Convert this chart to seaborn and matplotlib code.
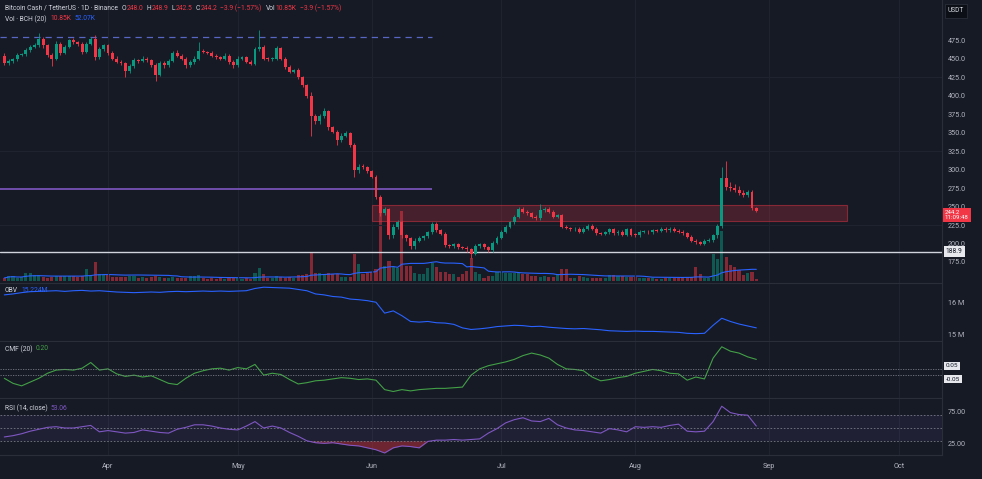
import numpy as np
import pandas as pd
import matplotlib
matplotlib.use("Agg")
import matplotlib.pyplot as plt
import matplotlib.transforms as mtransforms
import seaborn as sns

# ---------------------------------------------------------------- data
start_date = "2024-03-08"
first_open = 454.0

close = [
    444, 447, 449, 455, 456, 462, 466, 468, 476, 468,
    455, 450, 470, 458, 466, 475, 472, 470, 459, 470,
    476, 452, 463, 468, 458, 450, 446, 444, 433, 440,
    448, 447, 450, 448, 442, 428, 444, 441, 447, 457,
    454, 450, 441, 445, 450, 461, 459, 458, 454, 452,
    450, 454, 446, 441, 450, 452, 446, 443, 463, 466,
    450, 449, 450, 464, 450, 439, 432, 434, 425, 414,
    400, 373, 365, 372, 379, 357, 351, 340, 346, 349,
    333, 299, 304, 303, 298, 290, 263, 241, 246, 212,
    223, 229, 211, 207, 196, 204, 207, 210, 215, 226,
    218, 213, 198, 196, 199, 195, 194, 192, 186, 196,
    199, 195, 191, 201, 208, 216, 223, 229, 236, 247,
    243, 241, 236, 234, 245, 247, 243, 236, 238, 223,
    221, 219, 220, 216, 220, 224, 220, 214, 213, 215,
    219, 214, 216, 212, 219, 212, 211, 216, 216, 215,
    218, 217, 220, 218, 220, 217, 216, 214, 209, 204,
    202, 200, 204, 205, 211, 224, 288, 277, 275, 273,
    268, 266, 270, 248.1, 244.2,
]

upper_wick = [
    3, 2, 2, 3, 2, 3, 2, 3, 8, 3,
    2, 3, 4, 2, 3, 2, 3, 2, 3, 2,
    3, 6, 3, 2, 2, 2, 3, 2, 2, 3,
    3, 2, 4, 2, 2, 2, 3, 3, 2, 3,
    5, 2, 2, 3, 3, 12, 2, 2, 2, 2,
    2, 3, 2, 2, 3, 2, 2, 2, 3, 23,
    3, 2, 2, 3, 2, 2, 2, 2, 3, 2,
    2, 5, 2, 3, 4, 2, 2, 2, 3, 3,
    2, 3, 3, 3, 2, 2, 2, 3, 3, 2,
    3, 3, 2, 2, 2, 3, 3, 2, 2, 3,
    3, 2, 2, 2, 2, 2, 2, 2, 2, 3,
    2, 2, 2, 2, 2, 2, 2, 2, 3, 3,
    2, 2, 2, 2, 8, 3, 2, 2, 2, 2,
    2, 2, 2, 2, 2, 2, 2, 2, 2, 2,
    2, 2, 2, 2, 2, 2, 2, 2, 2, 2,
    2, 2, 2, 2, 2, 2, 2, 2, 2, 2,
    2, 2, 2, 2, 2, 3, 15, 23, 6, 5,
    5, 4, 3, 2, 0.8,
]

lower_wick = [
    2, 2, 3, 2, 2, 2, 3, 2, 2, 3,
    3, 10, 2, 3, 2, 2, 2, 3, 3, 2,
    2, 4, 2, 2, 3, 2, 2, 2, 8, 3,
    2, 3, 2, 2, 3, 8, 2, 3, 2, 2,
    2, 2, 3, 2, 2, 2, 2, 2, 2, 2,
    2, 2, 3, 3, 2, 2, 2, 2, 2, 2,
    2, 2, 2, 2, 2, 3, 2, 2, 3, 2,
    3, 27, 4, 3, 2, 3, 2, 7, 3, 2,
    3, 9, 3, 2, 3, 2, 3, 4, 3, 6,
    4, 3, 3, 3, 4, 3, 2, 2, 2, 2,
    2, 2, 3, 2, 2, 2, 2, 3, 6, 2,
    2, 2, 3, 2, 2, 2, 2, 2, 2, 2,
    2, 2, 2, 2, 2, 2, 2, 2, 2, 2,
    2, 2, 2, 2, 2, 2, 2, 2, 2, 2,
    2, 2, 2, 2, 2, 2, 2, 2, 2, 2,
    2, 2, 2, 2, 2, 2, 2, 2, 2, 2,
    2, 2, 2, 2, 3, 3, 3, 4, 4, 4,
    3, 3, 3, 3, 1.7,
]

volume_k = [
    13.5, 22.5, 22.5, 13.5, 18, 36, 36, 27, 27, 18,
    13.5, 18, 22.5, 22.5, 22.5, 22.5, 22.5, 18, 22.5, 54,
    27, 85.5, 31.5, 31.5, 27, 18, 18, 18, 18, 22.5,
    22.5, 13.5, 18, 13.5, 18, 22.5, 18, 13.5, 13.5, 18,
    13.5, 13.5, 13.5, 22.5, 22.5, 27, 13.5, 9, 13.5, 9,
    13.5, 9, 13.5, 13.5, 13.5, 9, 13.5, 9, 36, 58.5,
    31.5, 13.5, 13.5, 22.5, 18, 13.5, 18, 13.5, 27, 27,
    31.5, 126, 36, 36, 27, 36, 31.5, 31.5, 18, 18,
    18, 121.5, 76.5, 31.5, 36, 40.5, 54, 342, 67.5, 90,
    63, 58.5, 315, 67.5, 67.5, 36, 31.5, 31.5, 58.5, 81,
    63, 40.5, 40.5, 31.5, 31.5, 18, 31.5, 45, 103.5, 40.5,
    31.5, 13.5, 22.5, 22.5, 40.5, 40.5, 36, 36, 36, 36,
    31.5, 31.5, 22.5, 22.5, 18, 22.5, 18, 18, 31.5, 54,
    54, 13.5, 13.5, 22.5, 18, 13.5, 13.5, 13.5, 13.5, 13.5,
    27, 27, 22.5, 22.5, 18, 18, 18, 13.5, 13.5, 13.5,
    13.5, 9, 9, 13.5, 13.5, 13.5, 13.5, 13.5, 18, 18,
    63, 31.5, 13.5, 13.5, 121.5, 99, 225, 108, 72, 63,
    49.5, 27, 36, 40, 10.85,
]

# indicator readings, one value every `indicator_step` candles
indicator_step = 2
obv_m = [
    16.25, 16.28, 16.32, 16.35, 16.36, 16.37, 16.38, 16.36, 16.38, 16.39,
    16.37, 16.38, 16.36, 16.34, 16.33, 16.32, 16.33, 16.34, 16.33, 16.35,
    16.36, 16.35, 16.36, 16.37, 16.36, 16.37, 16.36, 16.37, 16.38, 16.45,
    16.49, 16.48, 16.47, 16.46, 16.42, 16.38, 16.28, 16.25, 16.20, 16.18,
    16.12, 16.10, 16.07, 16.02, 15.68, 15.75, 15.60, 15.42, 15.40, 15.42,
    15.38, 15.37, 15.33, 15.22, 15.17, 15.19, 15.22, 15.26, 15.28, 15.30,
    15.29, 15.26, 15.27, 15.24, 15.22, 15.20, 15.19, 15.20, 15.18, 15.16,
    15.13, 15.12, 15.11, 15.12, 15.11, 15.11, 15.10, 15.09, 15.08, 15.05,
    15.04, 15.05, 15.30, 15.52, 15.42, 15.34, 15.28, 15.22,
]
cmf = [
    -0.10, -0.18, -0.22, -0.16, -0.10, -0.02, 0.03, 0.04, 0.03, 0.06,
    0.15, 0.03, 0.05, -0.03, -0.07, -0.05, -0.08, -0.06, -0.12, -0.18,
    -0.20, -0.10, -0.02, 0.02, 0.05, 0.06, 0.03, 0.07, 0.05, 0.12,
    -0.05, -0.02, -0.04, -0.12, -0.19, -0.17, -0.14, -0.13, -0.11, -0.09,
    -0.10, -0.12, -0.11, -0.13, -0.28, -0.31, -0.28, -0.30, -0.28, -0.27,
    -0.26, -0.26, -0.25, -0.24, -0.05, 0.05, 0.10, 0.13, 0.16, 0.20,
    0.26, 0.30, 0.27, 0.22, 0.12, 0.05, 0.04, 0.02, -0.08, -0.14,
    -0.12, -0.09, -0.07, -0.02, 0.01, 0.04, 0.02, -0.02, -0.03, -0.13,
    -0.08, -0.11, 0.22, 0.40, 0.33, 0.30, 0.24, 0.20,
]
rsi = [
    36, 38, 41, 45, 48, 51, 52, 50, 50, 52,
    54, 44, 46, 44, 42, 43, 47, 45, 43, 42,
    48, 51, 55, 55, 53, 50, 48, 47, 53, 60,
    50, 53, 50, 43, 37, 30, 27, 26, 27, 25,
    23, 22, 19, 16, 11, 19, 22, 21, 19, 29,
    31, 31, 32, 31, 32, 33, 42, 49, 58, 63,
    66, 61, 60, 65, 55, 50, 47, 46, 44, 42,
    49, 47, 44, 52, 51, 52, 51, 54, 56, 45,
    44, 45, 60, 84, 74, 71, 70, 53,
]

price_ticks = [175, 200, 225, 250, 275, 300, 325, 350, 375, 400, 425, 450, 475]
grid_levels = [225, 325, 425]
obv_ticks = [15, 16]
obv_tick_labels = ["15 M", "16 M"]
cmf_levels = [0.05, -0.05]
rsi_levels = [70, 50, 30]
rsi_ticks = [25, 75]
month_labels = ["Apr", "May", "Jun", "Jul", "Aug", "Sep", "Oct"]
month_starts = ["2024-04-01", "2024-05-01", "2024-06-01", "2024-07-01",
                "2024-08-01", "2024-09-01", "2024-10-01"]

dashed_level = 479.0
purple_level = 273.6
support_level = 188.9
zone_low, zone_high = 230.5, 252.0
zone_start, zone_end = "2024-06-01", "2024-09-19"
lines_start, lines_end = "2024-03-07", "2024-06-15"
view_start, view_end = "2024-03-07", "2024-10-11"
vol_ma_period = 20
countdown = "11:09:48"

# ---------------------------------------------------------------- style
BG = "#161a25"
GRID = "#2a2e39"
GRID_FAINT = "#1f2330"
TXT = "#b2b5be"
UP = "#089981"
DOWN = "#f23645"
BLUE = "#2962ff"
PURPLE = "#7e57c2"
GREEN = "#43a047"

sns.set_theme(style="dark", rc={
    "figure.facecolor": BG, "axes.facecolor": BG, "savefig.facecolor": BG,
    "axes.edgecolor": GRID, "text.color": TXT, "xtick.color": TXT,
    "ytick.color": TXT, "axes.labelcolor": TXT,
})
plt.rcParams["font.family"] = ["Roboto", "DejaVu Sans"]

W, H = 982, 479
PLOT_RIGHT = 942
fig = plt.figure(figsize=(W / 100, H / 100), dpi=100)


def pane(top, bottom, **kw):
    return fig.add_axes([0, 1 - bottom / H, PLOT_RIGHT / W, (bottom - top) / H], **kw)


ax_p = pane(0, 283)
ax_v = pane(0, 283, sharex=ax_p)
ax_o = pane(284, 341, sharex=ax_p)
ax_c = pane(342, 398, sharex=ax_p)
ax_r = pane(399, 455, sharex=ax_p)
ax_v.set_zorder(0)
ax_p.set_zorder(1)
ax_p.patch.set_visible(False)

t0 = pd.Timestamp(start_date)
def day_index(d):
    return (pd.Timestamp(d) - t0).days

c = np.asarray(close, dtype=float)
o = np.r_[first_open, c[:-1]]
hi = np.maximum(o, c) + np.asarray(upper_wick, float)
lo = np.minimum(o, c) - np.asarray(lower_wick, float)
x = np.arange(len(c))
up = c >= o
cols = np.where(up, UP, DOWN)

# ---- volume (behind candles)
vol = np.asarray(volume_k, float)
vol_cols = [(0.03, 0.6, 0.5, 0.5) if u else (0.95, 0.21, 0.27, 0.5) for u in up]
ax_v.bar(x, vol, width=0.72, color=vol_cols, linewidth=0)
vol_ma = pd.Series(vol).rolling(vol_ma_period, min_periods=1).mean()
sns.lineplot(x=x, y=vol_ma.values, ax=ax_v, color=BLUE, linewidth=0.8, legend=False)
ax_v.set_ylim(-9, 1264.5)
ax_v.set_yticks([])
ax_v.set_facecolor(BG)

# ---- candles
ax_p.vlines(x, lo, hi, colors=cols, linewidth=0.6, zorder=3)
body = np.maximum(np.abs(c - o), 1.2)
ax_p.bar(x, body, bottom=np.minimum(o, c), width=0.68, color=cols, linewidth=0, zorder=4)

# ---- levels and zone
ls, le = day_index(lines_start), day_index(lines_end)
ax_p.hlines(dashed_level, ls, le, colors="#5866c4", linestyles=(0, (5, 4)), linewidth=0.9, zorder=2)
ax_p.hlines(purple_level, ls, le, colors="#7e57c2", linewidth=1.2, zorder=2)
ax_p.axhline(support_level, color="#d1d4dc", linewidth=1.0, zorder=2)
zs, ze = day_index(zone_start), day_index(zone_end)
ax_p.fill_between([zs, ze], zone_low, zone_high, facecolor=(0.95, 0.21, 0.27, 0.22),
                  edgecolor=(0.95, 0.21, 0.27, 0.45), linewidth=0.8, zorder=1)
for g in grid_levels:
    ax_p.axhline(g, color=GRID_FAINT, linewidth=0.8, zorder=0)

ax_p.set_ylim(146.6, 529.3)
ax_p.set_yticks(price_ticks)
ax_p.set_yticklabels([f"{v:.1f}" for v in price_ticks])

# ---- OBV
ind_x = np.arange(len(obv_m)) * indicator_step
sns.lineplot(x=ind_x, y=obv_m, ax=ax_o, color=BLUE, linewidth=0.8, legend=False)
ax_o.set_ylim(14.81, 16.59)
ax_o.set_yticks(obv_ticks)
ax_o.set_yticklabels(obv_tick_labels)

# ---- CMF
ind_x = np.arange(len(cmf)) * indicator_step
sns.lineplot(x=ind_x, y=cmf, ax=ax_c, color=GREEN, linewidth=0.8, legend=False)
for lv in cmf_levels:
    ax_c.axhline(lv, color="#787b86", linestyle=(0, (1.5, 1.5)), linewidth=0.6)
ax_c.set_ylim(-0.413, 0.476)
ax_c.set_yticks([])

# ---- RSI
ind_x = np.arange(len(rsi)) * indicator_step
rsi_arr = np.asarray(rsi, float)
ax_r.axhspan(min(rsi_levels), max(rsi_levels), color=PURPLE, alpha=0.1, linewidth=0)
for lv in rsi_levels:
    ax_r.axhline(lv, color="#787b86", linestyle=(0, (2, 2)), linewidth=0.6)
ax_r.fill_between(ind_x, rsi_arr, min(rsi_levels), where=rsi_arr < min(rsi_levels),
                  interpolate=True, color=DOWN, alpha=0.4, linewidth=0)
sns.lineplot(x=ind_x, y=rsi_arr, ax=ax_r, color=PURPLE, linewidth=0.8, legend=False)
ax_r.set_ylim(7.8, 95.3)
ax_r.set_yticks(rsi_ticks)
ax_r.set_yticklabels([f"{v:.2f}" for v in rsi_ticks])

# ---- shared axis styling
month_pos = [day_index(m) for m in month_starts]
for ax in (ax_p, ax_v, ax_o, ax_c, ax_r):
    ax.set_xlim(day_index(view_start) + 0.005, day_index(view_end) - 0.04)
    ax.set_xlabel("")
    ax.set_ylabel("")
    ax.yaxis.tick_right()
    ax.tick_params(axis="both", length=0, labelsize=5.2, colors=TXT, pad=4)
    for s in ("top", "left"):
        ax.spines[s].set_visible(False)
    ax.spines["right"].set_color(GRID)
    ax.spines["bottom"].set_color(GRID)
    ax.spines["right"].set_linewidth(0.8)
    ax.spines["bottom"].set_linewidth(0.8)
ax_v.spines["right"].set_visible(False)
ax_v.spines["bottom"].set_visible(False)
ax_r.set_xticks(month_pos)
ax_r.set_xticklabels(month_labels)
for ax in (ax_p, ax_o, ax_c, ax_r):
    ax.grid(axis="x", color=GRID_FAINT, linewidth=0.8)
    ax.grid(axis="y", visible=False)
for ax in (ax_p, ax_v, ax_o, ax_c):
    plt.setp(ax.get_xticklabels(), visible=False)
ax_v.grid(False)
ax_r.tick_params(axis="x", pad=6, labelsize=5.2)

# ---- right-side labels
tr = mtransforms.blended_transform_factory(ax_p.transAxes, ax_p.transData)
ax_p.text(1.003, c[-1], f"{c[-1]:.1f}\n{countdown}",
          transform=mtransforms.offset_copy(tr, fig=fig, y=-4.5, units="dots"),
          ha="left", va="center", fontsize=4.4, color="white", linespacing=1.0,
          bbox=dict(boxstyle="square,pad=0.3", fc=DOWN, ec="none"), clip_on=False, zorder=20)
ax_p.text(1.004, support_level, f"{support_level:.1f}", transform=tr, ha="left", va="center",
          fontsize=4.8, color="#131722",
          bbox=dict(boxstyle="square,pad=0.3", fc="#e6e8ee", ec="none"), clip_on=False, zorder=20)
trc = mtransforms.blended_transform_factory(ax_c.transAxes, ax_c.transData)
for lv, dy in zip(cmf_levels, (3, -4)):
    ax_c.text(1.004, lv, f"{lv:.2f}", transform=mtransforms.offset_copy(trc, fig=fig, y=dy, units="dots"),
              ha="left", va="center", fontsize=4.6, color="#131722",
              bbox=dict(boxstyle="square,pad=0.25", fc="#e6e8ee", ec="none"), clip_on=False, zorder=20)
fig.text(956 / W, 1 - 11 / H, "USDT", ha="center", va="center", fontsize=4.8, color="#d1d4dc",
         bbox=dict(boxstyle="square,pad=0.5", fc="#0d0f16", ec=GRID, lw=0.6))

# ---- legends
fig.canvas.draw()
renderer = fig.canvas.get_renderer()


def segments(x0, y_px, parts, size=4.9):
    xx = x0
    for text, color, gap in parts:
        t = fig.text(xx / W, 1 - y_px / H, text, color=color, fontsize=size, ha="left", va="center")
        bb = t.get_window_extent(renderer)
        xx = bb.x1 + gap


LBL = "#d1d4dc"
segments(5, 8, [
    ("Bitcoin Cash / TetherUS · 1D · Binance", LBL, 4),
    ("O", LBL, 0.5), ("248.0", DOWN, 3),
    ("H", LBL, 0.5), ("248.9", DOWN, 3),
    ("L", LBL, 0.5), ("242.5", DOWN, 3),
    ("C", LBL, 0.5), ("244.2", DOWN, 3),
    ("−3.9 (−1.57%)", DOWN, 4),
    ("Vol", LBL, 0.5), ("10.85K", DOWN, 4),
    ("−3.9 (−1.57%)", DOWN, 0),
])
segments(5, 19, [("Vol · BCH (20)", LBL, 4), ("10.85K", DOWN, 3), ("52.07K", BLUE, 0)])
segments(5, 290, [("OBV", LBL, 3), ("15.224M", BLUE, 0)])
segments(5, 349, [("CMF (20)", LBL, 3), ("0.20", GREEN, 0)])
segments(5, 408, [("RSI (14, close)", LBL, 3), ("53.06", PURPLE, 0)])

fig.savefig("out.png", dpi=100, facecolor=BG)
